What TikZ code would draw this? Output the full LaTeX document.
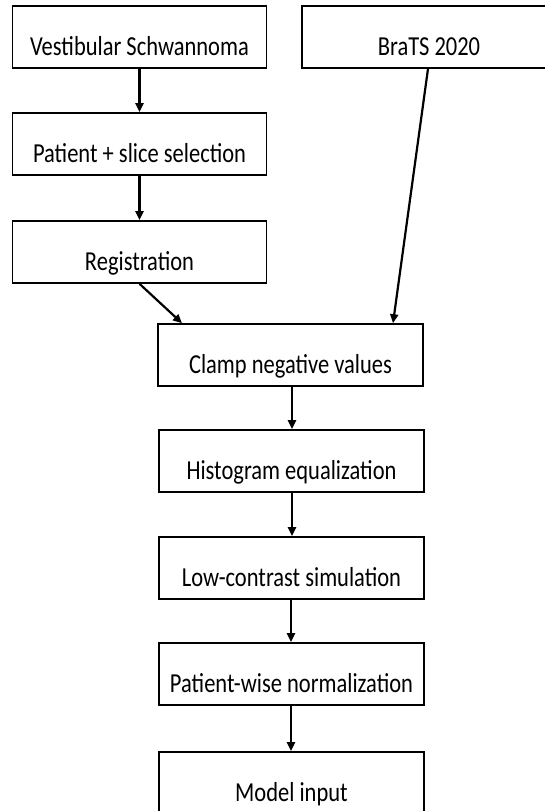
\documentclass[tikz,border=0pt]{standalone}
\usepackage{fontspec}
\setmainfont{Carlito}
\usetikzlibrary{arrows.meta}
\newcommand{\tallt}[1]{\scalebox{1}[1.22]{#1}}
\tikzset{
  x=1pt, y=-1pt,
  box/.style={draw=black, line width=1.6pt, rectangle, inner sep=0pt,
    minimum width=254pt, minimum height=62pt,
    font=\fontsize{22.5}{24}\selectfont, text height=44pt, text depth=8pt},
  arr/.style={line width=2.2pt, -{Triangle[length=9pt,width=8pt]}}
}
\begin{document}
\begin{tikzpicture}
\useasboundingbox (0,0) rectangle (545,811);
\clip (0,0) rectangle (545,811);
\node[box] (vs) at (139.5,37) {\tallt{Vestibular Schwannoma}};
\node[box] (ps) at (139.5,144) {\tallt{Patient + slice selection}};
\node[box] (reg) at (139.5,252) {\tallt{Registration}};
\node[box, minimum width=258pt] (brats) at (431,37) {\hspace*{-4pt}\tallt{BraTS 2020}};
\node[box, minimum width=265pt] (clamp) at (290.5,355) {\tallt{Clamp negative values}};
\node[box, minimum width=265pt] (hist) at (291.5,461) {\tallt{Histogram equalization}};
\node[box, minimum width=265pt] (low) at (291.5,568) {\tallt{Low-contrast simulation}};
\node[box, minimum width=265pt] (pw) at (291.5,674) {\tallt{Patient-wise normalization}};
\node[box, minimum width=265pt] (model) at (291.5,783) {\tallt{Model input}};
\coordinate (bratsout) at (brats.south -| 428,0);
\coordinate (clampinB) at (clamp.north -| 393,0);
\coordinate (clampinR) at (clamp.north -| 182,0);
\draw[arr] (vs) -- (ps);
\draw[arr] (ps) -- (reg);
\draw[arr] (reg.south) -- (clampinR);
\draw[arr] (bratsout) -- (clampinB);
\draw[arr] (clamp.south -| 292,0) -- (hist.north -| 292,0);
\draw[arr] (hist.south -| 292,0) -- (low.north -| 292,0);
\draw[arr] (low.south -| 291,0) -- (pw.north -| 291,0);
\draw[arr] (pw.south -| 291,0) -- (model.north -| 291,0);
\end{tikzpicture}
\end{document}
